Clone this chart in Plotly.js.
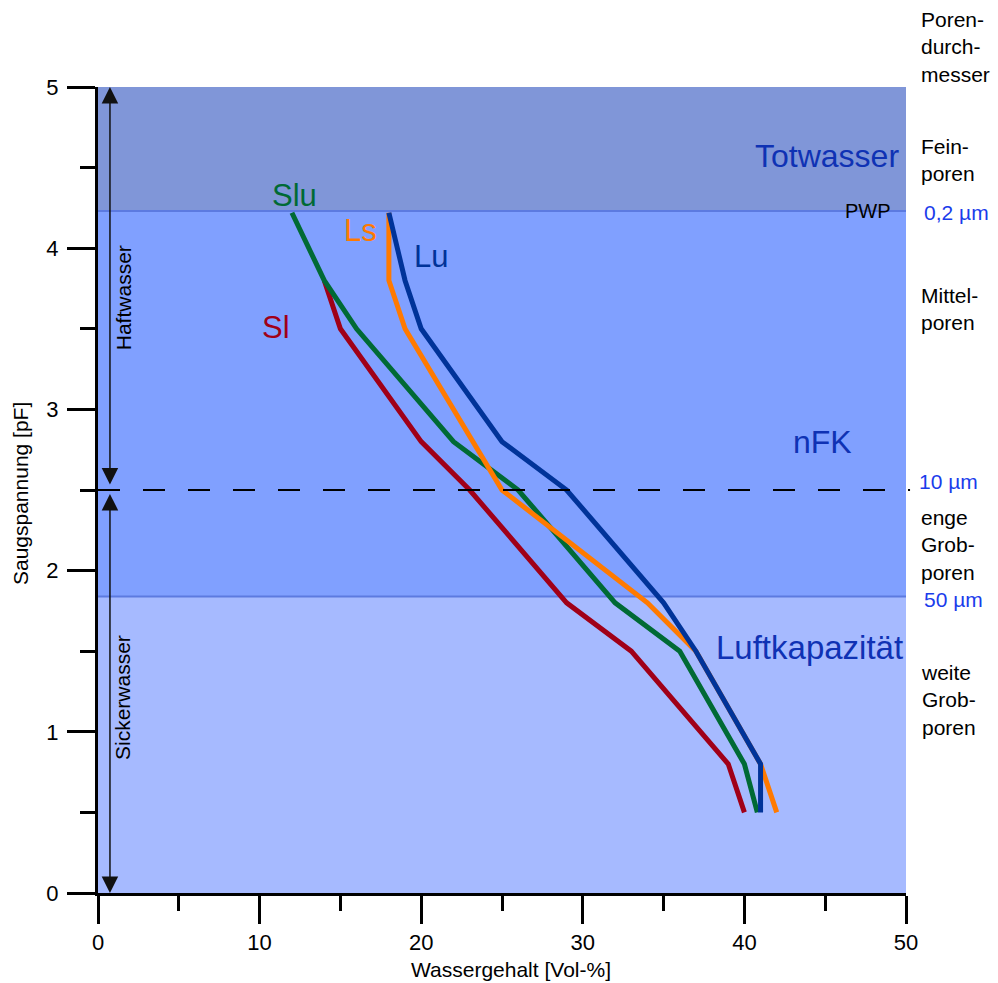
<!DOCTYPE html>
<html>
<head>
<meta charset="utf-8">
<script src="https://cdn.plot.ly/plotly-3.0.1.min.js"></script>
<style>
  html, body { margin: 0; padding: 0; background: #ffffff; }
  #chart { width: 998px; height: 983px; }
</style>
</head>
<body>
<div id="chart"></div>
<script>
// pF curves (Saugspannung vs. Wassergehalt) for four soil types
const slX  = [14, 15, 20, 23, 29, 33, 39, 40];
const slY  = [3.8, 3.5, 2.8, 2.5, 1.8, 1.5, 0.8, 0.5];

const sluX = [12, 14, 16, 22, 26, 32, 36, 40, 40.8];
const sluY = [4.22, 3.8, 3.5, 2.8, 2.5, 1.8, 1.5, 0.8, 0.5];

const lsX  = [18, 18, 19, 25, 34, 37, 41, 42];
const lsY  = [4.22, 3.8, 3.5, 2.5, 1.8, 1.5, 0.8, 0.5];

const luX  = [18, 19, 20, 25, 29, 35, 37, 41, 41];
const luY  = [4.22, 3.8, 3.5, 2.8, 2.5, 1.8, 1.5, 0.8, 0.5];

// band limits (pF): PWP, field capacity, top of axis; 2.5 marks Haft-/Sickerwasser
const pfPWP = 4.23;
const pfFK = 1.84;
const pfMax = 5;
const pfSplit = 2.5;

const xTicks = [0, 10, 20, 30, 40, 50];
const yTicks = [0, 1, 2, 3, 4, 5];

const FONT = 'Liberation Sans, Arial, sans-serif';
const C_SL = '#a00018', C_SLU = '#006a35', C_LS = '#ff7a00', C_LU = '#003399';
const C_ZONE = '#0f32b4', C_UM = '#1a3ceb';

function curve(x, y, color, name) {
  return { x: x, y: y, mode: 'lines', name: name, type: 'scatter',
           line: { color: color, width: 5, shape: 'linear' },
           hoverinfo: 'skip', showlegend: false };
}

const traces = [
  curve(slX, slY, C_SL, 'Sl'),
  curve(sluX, sluY, C_SLU, 'Slu'),
  curve(lsX, lsY, C_LS, 'Ls'),
  curve(luX, luY, C_LU, 'Lu')
];

const shapes = [
  // Totwasser band
  { type: 'rect', xref: 'x', yref: 'y', x0: 0, x1: 50, y0: pfPWP, y1: pfMax,
    fillcolor: '#8096d8', line: { width: 0 }, layer: 'below' },
  // nFK band
  { type: 'rect', xref: 'x', yref: 'y', x0: 0, x1: 50, y0: pfFK, y1: pfPWP,
    fillcolor: '#80a0ff', line: { width: 0 }, layer: 'below' },
  // Luftkapazität band
  { type: 'rect', xref: 'x', yref: 'y', x0: 0, x1: 50, y0: 0, y1: pfFK,
    fillcolor: '#a6baff', line: { width: 0 }, layer: 'below' },
  // band borders
  { type: 'line', xref: 'x', yref: 'y', x0: 0, x1: 50, y0: pfPWP, y1: pfPWP,
    line: { color: '#5c7ae0', width: 2 }, layer: 'below' },
  { type: 'line', xref: 'x', yref: 'y', x0: 0, x1: 50, y0: pfFK, y1: pfFK,
    line: { color: '#5c7ae0', width: 2 }, layer: 'below' },
  // dashed divider at pF 2.5
  { type: 'line', xref: 'paper', yref: 'y', x0: 0, x1: 1.005, y0: pfSplit, y1: pfSplit,
    line: { color: '#000000', width: 2, dash: '22px,23px' }, layer: 'above' }
];

function txt(x, y, text, size, color, extra) {
  return Object.assign({ x: x, y: y, xref: 'x', yref: 'y', text: text, showarrow: false,
    font: { family: FONT, size: size, color: color }, xanchor: 'center', yanchor: 'middle' }, extra || {});
}
// right-hand column, placed in paper units horizontally
function side(xp, y, text, color, extra) {
  return txt(xp, y, text, 21, color, Object.assign({ xref: 'paper', xanchor: 'left', align: 'left' }, extra || {}));
}

const arrowX = 0.74;
const arrowStyle = { xref: 'x', yref: 'y', axref: 'x', ayref: 'y', text: '', showarrow: true,
  arrowside: 'end+start', arrowhead: 2, startarrowhead: 2,
  arrowsize: 2.2, startarrowsize: 2.2, arrowwidth: 1.5, arrowcolor: '#111111' };

const annotations = [
  // Haftwasser / Sickerwasser double arrows
  Object.assign({ x: arrowX, y: pfMax, ax: arrowX, ay: pfSplit + 0.025 }, arrowStyle),
  Object.assign({ x: arrowX, y: 0, ax: arrowX, ay: pfSplit - 0.015 }, arrowStyle),
  txt(1.55, 3.69, 'Haftwasser', 21, '#000000', { textangle: -90 }),
  txt(1.55, 1.21, 'Sickerwasser', 21, '#000000', { textangle: -90 }),

  // axis titles
  txt(0.511, -0.0955, 'Wassergehalt [Vol-%]', 21, '#000000', { xref: 'paper', yref: 'paper' }),
  txt(-0.0965, 0.495, 'Saugspannung [pF]', 21, '#000000', { xref: 'paper', yref: 'paper', textangle: -90 }),

  // curve labels
  txt(12.16, 4.33, 'Slu', 31, C_SLU),
  txt(16.27, 4.11, 'Ls', 31, C_LS),
  txt(20.6, 3.95, 'Lu', 31, C_LU),
  txt(11.0, 3.51, 'Sl', 31, C_SL),

  // zone labels
  txt(45.1, 4.57, 'Totwasser', 32, C_ZONE),
  txt(44.86, 2.80, 'nFK', 32, C_ZONE),
  txt(44.0, 1.52, 'Luftkapazität', 33, C_ZONE),
  txt(47.65, 4.23, 'PWP', 20, '#000000'),

  // pore size column
  side(1.016, 1.0496, 'Poren-<br>durch-<br>messer', '#000000', { yref: 'paper' }),
  side(1.016, 4.546, 'Fein-<br>poren', '#000000'),
  side(1.0198, 4.224, '0,2 µm', C_UM),
  side(1.016, 3.622, 'Mittel-<br>poren', '#000000'),
  side(1.0136, 2.55, '10 µm', C_UM),
  side(1.016, 2.159, 'enge<br>Grob-<br>poren', '#000000'),
  side(1.0198, 1.818, '50 µm', C_UM),
  side(1.016, 1.198, 'weite<br>Grob-<br>poren', '#000000')
];

const axisCommon = {
  showgrid: false, zeroline: false, showline: true, linecolor: '#000000', linewidth: 3,
  ticks: 'outside', ticklen: 28, tickwidth: 3, tickcolor: '#000000',
  tickfont: { family: FONT, size: 22, color: '#000000' },
  fixedrange: true
};

const layout = {
  width: 998, height: 983,
  margin: { l: 98, r: 92, t: 87, b: 90, pad: 0 },
  paper_bgcolor: '#ffffff', plot_bgcolor: '#ffffff',
  font: { family: FONT, color: '#000000' },
  showlegend: false,
  xaxis: Object.assign({}, axisCommon, {
    range: [0, 50], tickvals: xTicks, ticktext: xTicks.map(String),
    minor: { dtick: 5, tick0: 0, ticks: 'outside', ticklen: 15, tickwidth: 3, tickcolor: '#000000', showgrid: false }
  }),
  yaxis: Object.assign({}, axisCommon, {
    range: [0, 5], tickvals: yTicks, ticktext: yTicks.map(String), ticklabelstandoff: 4,
    minor: { dtick: 0.5, tick0: 0, ticks: 'outside', ticklen: 15, tickwidth: 3, tickcolor: '#000000', showgrid: false }
  }),
  shapes: shapes,
  annotations: annotations
};

Plotly.newPlot('chart', traces, layout, { staticPlot: true, displayModeBar: false });
</script>
</body>
</html>
